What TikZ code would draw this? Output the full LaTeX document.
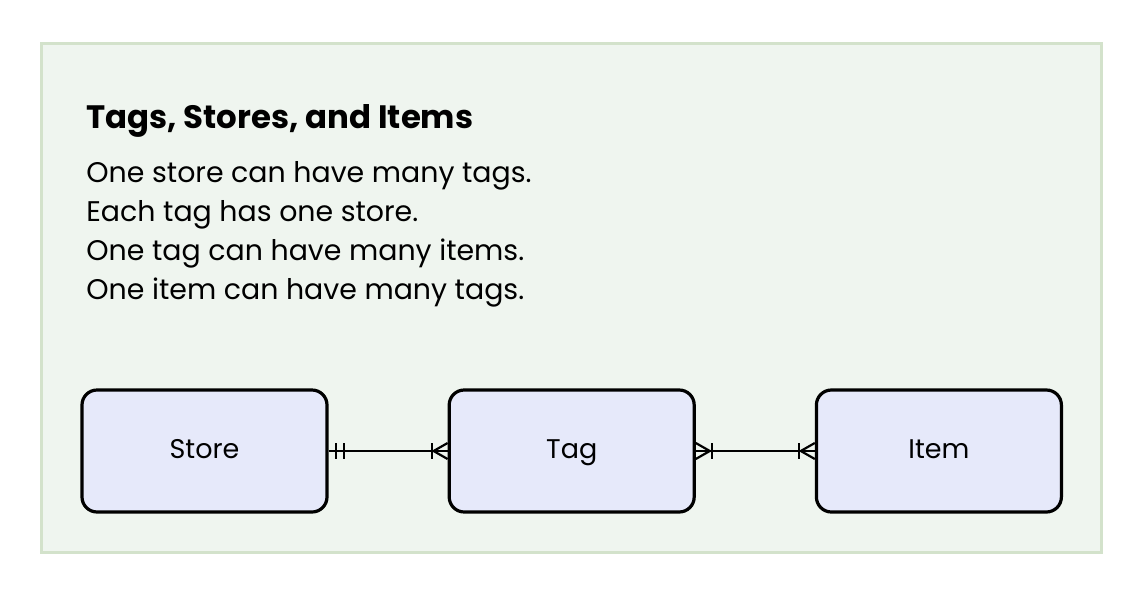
\documentclass[tikz,border=0pt]{standalone}
\usepackage{fontspec}
\setmainfont{Poppins}
\usepackage{xcolor}
\usetikzlibrary{positioning,calc}
\definecolor{panelfill}{HTML}{EFF5EF}
\definecolor{panelline}{HTML}{D3E2CB}
\definecolor{boxfill}{HTML}{E6E9FA}

\begin{document}
\begin{tikzpicture}[x=0.5pt, y=-0.5pt, node distance = 59.5pt]
            \tikzstyle{entity} = [draw=black, line width=1.6pt, rounded corners=7.5pt, fill=boxfill, minimum width=122.5pt, minimum height=61pt, text height=1.95ex, text depth=0.55ex, font=\fontsize{13.5}{16}\selectfont];
            \tikzstyle{textline} = [anchor=base west, inner sep=0pt, font=\fontsize{14.2}{18}\selectfont];
            \tikzstyle{rel} = [line width=1.1pt];
            \useasboundingbox (0,0) rectangle (1141,590);
            \draw [panelline, fill=panelfill, line width=1.5pt] (41,43) rectangle (1101,552);

            \node [textline, font=\bfseries\fontsize{16.2}{20}\selectfont] (title) at (86,128) {Tags, Stores, and Items};
            \foreach \txt [count=\i] in {One store can have many tags., Each tag has one store., One tag can have many items., One item can have many tags.}
                \node [textline] (line\i) at (86, {182+39*(\i-1)}) {\txt};

            \node [entity] (store) at (204.5,451) {Store};
            \node [entity, right = of store] (tag) {Tag};
            \node [entity, right = of tag] (item) {Item};

            \draw [rel] (store.east) -- (tag.west);
            \draw [rel] (tag.east) -- (item.west);

            % store end: exactly one
            \foreach \dx in {7, 15}
                \draw [rel] ($(store.east)+(\dx,-8)$) -- ($(store.east)+(\dx,8)$);
            % tag end: one or many
            \draw [rel] ($(tag.west)+(-16,-8)$) -- ($(tag.west)+(-16,8)$);
            \draw [rel] ($(tag.west)+(0,-8)$) -- ($(tag.west)+(-14,0)$) -- ($(tag.west)+(0,8)$);
            % tag to item: one or many at both ends
            \draw [rel] ($(tag.east)+(16,-8)$) -- ($(tag.east)+(16,8)$);
            \draw [rel] ($(tag.east)+(0,-8)$) -- ($(tag.east)+(14,0)$) -- ($(tag.east)+(0,8)$);
            \draw [rel] ($(item.west)+(-16,-8)$) -- ($(item.west)+(-16,8)$);
            \draw [rel] ($(item.west)+(0,-8)$) -- ($(item.west)+(-14,0)$) -- ($(item.west)+(0,8)$);

        \end{tikzpicture}
\end{document}
